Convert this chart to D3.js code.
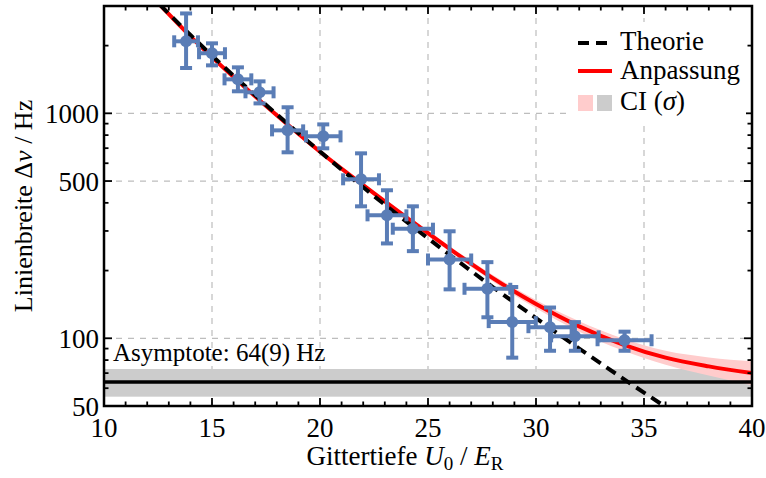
<!DOCTYPE html>
<html>
<head>
<meta charset="utf-8">
<script src="https://cdn.jsdelivr.net/npm/d3@7"></script>
<style>
  body { margin: 0; background: #fff; }
  text { font-family: "Liberation Serif", "DejaVu Serif", serif; fill: #000; }
</style>
</head>
<body>
<div id="chart"></div>
<script>
// measured points: lattice depth, its error, linewidth and asymmetric error range
const depth = [13.8, 15.0, 16.2, 17.2, 18.5, 20.15, 21.9, 23.1, 24.3, 26.0, 27.75, 28.9, 30.65, 31.8, 34.1];
const depthErr = [0.55, 0.6, 0.62, 0.65, 0.72, 0.8, 0.83, 0.9, 0.93, 1.0, 1.06, 1.09, 1.0, 1.1, 1.25];
const width = [2090, 1850, 1416, 1240, 840, 790, 509, 352, 307, 224, 166, 118, 112, 102, 98];
const widthLo = [1590, 1634, 1253, 1107, 671, 699, 386, 264, 244, 165, 124, 82, 88, 88, 88];
const widthHi = [2780, 2047, 1601, 1387, 1064, 893, 664, 455, 386, 299, 218, 169, 137, 118, 107];

// theory curve (dashed)
const theoryX = [12, 14, 16, 18, 20, 22, 24, 26, 28, 30, 32, 34, 36, 37];
const theoryY = [3460, 2230, 1470, 990, 676, 469, 330, 235, 169, 123, 90, 66.5, 49.5, 42.7];

// fitted curve and its confidence band
const fitX = [12.5, 14, 16, 18, 20, 22, 24, 26, 28, 30, 32, 34, 36, 38, 40];
const fitY = [3100, 2200, 1450, 980, 675, 480, 345, 250, 185, 142, 113, 94, 82, 75, 70];
const bandX = [12.5, 16, 20, 24, 28, 30, 32, 34, 36, 38, 40];
const bandLo = [3060, 1428, 661, 336, 179, 136, 107, 88.4, 76.3, 68.4, 61.9];
const bandHi = [3150, 1472, 689, 354, 191, 148, 119, 99.9, 88, 82.2, 79];

const asymptote = 64;
const asymptoteErr = 9;

const xTicks = [10, 15, 20, 25, 30, 35, 40];
const yTicks = [50, 100, 500, 1000];
const yMinor = [60, 70, 80, 90, 200, 300, 400, 600, 700, 800, 900, 2000, 3000];

const W = 766, H = 478;
const margin = {top: 6, right: 14, bottom: 72, left: 104};
const iw = W - margin.left - margin.right;
const ih = H - margin.top - margin.bottom;

const svg = d3.select('#chart').append('svg')
    .attr('width', W)
    .attr('height', H);

svg.append('defs').append('clipPath').attr('id', 'clip')
  .append('rect').attr('width', iw).attr('height', ih);

const g = svg.append('g')
    .attr('transform', `translate(${margin.left},${margin.top})`);

const x = d3.scaleLinear().domain([10, 40]).range([0, iw]);
const y = d3.scaleLog().domain([50, 3000]).range([ih, 0]);

const blue = '#5a7db6';

// grid
g.append('g').selectAll('line')
  .data(xTicks.slice(1, -1))
  .join('line')
    .attr('x1', d => x(d)).attr('x2', d => x(d))
    .attr('y1', 0).attr('y2', ih)
    .attr('stroke', '#bdbdbd').attr('stroke-width', 1.2)
    .attr('stroke-dasharray', '6,6');
g.append('g').selectAll('line')
  .data(yTicks.slice(1))
  .join('line')
    .attr('x1', 0).attr('x2', iw)
    .attr('y1', d => y(d)).attr('y2', d => y(d))
    .attr('stroke', '#bdbdbd').attr('stroke-width', 1.2)
    .attr('stroke-dasharray', '6,6');

const plot = g.append('g').attr('clip-path', 'url(#clip)');

// asymptote band
plot.append('rect')
    .attr('x', 0).attr('width', iw)
    .attr('y', y(asymptote + asymptoteErr))
    .attr('height', y(asymptote - asymptoteErr) - y(asymptote + asymptoteErr))
    .attr('fill', '#cccccc');

// fit confidence band
const band = bandX.map((d, i) => ({x: d, lo: bandLo[i], hi: bandHi[i]}));
plot.append('path')
    .datum(band)
    .attr('fill', '#ffcccc')
    .attr('d', d3.area()
        .x(d => x(d.x))
        .y0(d => y(d.lo))
        .y1(d => y(d.hi))
        .curve(d3.curveMonotoneX));

// asymptote line
plot.append('line')
    .attr('x1', 0).attr('x2', iw)
    .attr('y1', y(asymptote)).attr('y2', y(asymptote))
    .attr('stroke', '#000').attr('stroke-width', 3.5);

const line = d3.line()
    .x(d => x(d[0]))
    .y(d => y(d[1]))
    .curve(d3.curveMonotoneX);

plot.append('path')
    .datum(fitX.map((d, i) => [d, fitY[i]]))
    .attr('fill', 'none')
    .attr('stroke', '#ff0000')
    .attr('stroke-width', 4)
    .attr('d', line);

plot.append('path')
    .datum(theoryX.map((d, i) => [d, theoryY[i]]))
    .attr('fill', 'none')
    .attr('stroke', '#000')
    .attr('stroke-width', 4)
    .attr('stroke-dasharray', '11,7')
    .attr('d', line);

// error bars
const pts = depth.map((d, i) => ({x: d, xe: depthErr[i], y: width[i], lo: widthLo[i], hi: widthHi[i]}));
const cap = 6;
const eb = g.append('g').attr('stroke', blue).attr('stroke-width', 4);
pts.forEach(p => {
  const cx = x(p.x), cy = y(p.y);
  const x0 = x(p.x - p.xe), x1 = x(p.x + p.xe);
  const y0 = y(p.lo), y1 = y(p.hi);
  eb.append('line').attr('x1', x0).attr('x2', x1).attr('y1', cy).attr('y2', cy);
  eb.append('line').attr('x1', cx).attr('x2', cx).attr('y1', y0).attr('y2', y1);
  eb.append('line').attr('x1', x0).attr('x2', x0).attr('y1', cy - cap).attr('y2', cy + cap);
  eb.append('line').attr('x1', x1).attr('x2', x1).attr('y1', cy - cap).attr('y2', cy + cap);
  eb.append('line').attr('x1', cx - cap).attr('x2', cx + cap).attr('y1', y0).attr('y2', y0);
  eb.append('line').attr('x1', cx - cap).attr('x2', cx + cap).attr('y1', y1).attr('y2', y1);
});
g.append('g').selectAll('circle')
  .data(pts)
  .join('circle')
    .attr('cx', d => x(d.x))
    .attr('cy', d => y(d.y))
    .attr('r', 6)
    .attr('fill', blue);

// asymptote label
g.append('text')
    .attr('x', 9).attr('y', 355)
    .style('font-size', '25px')
    .text('Asymptote: 64(9) Hz');

// frame and ticks
g.append('rect')
    .attr('width', iw).attr('height', ih)
    .attr('fill', 'none').attr('stroke', '#000').attr('stroke-width', 2.5);

const xMinor = d3.range(11, 40).filter(d => d % 5 !== 0);
const tickG = g.append('g').attr('stroke', '#000').attr('stroke-width', 1.8);
xTicks.forEach(d => {
  tickG.append('line').attr('x1', x(d)).attr('x2', x(d)).attr('y1', ih).attr('y2', ih - 8);
  tickG.append('line').attr('x1', x(d)).attr('x2', x(d)).attr('y1', 0).attr('y2', 8);
});
xMinor.forEach(d => {
  tickG.append('line').attr('x1', x(d)).attr('x2', x(d)).attr('y1', ih).attr('y2', ih - 4.5);
  tickG.append('line').attr('x1', x(d)).attr('x2', x(d)).attr('y1', 0).attr('y2', 4.5);
});
yTicks.forEach(d => {
  tickG.append('line').attr('x1', 0).attr('x2', 8).attr('y1', y(d)).attr('y2', y(d));
  tickG.append('line').attr('x1', iw).attr('x2', iw - 8).attr('y1', y(d)).attr('y2', y(d));
});
yMinor.forEach(d => {
  tickG.append('line').attr('x1', 0).attr('x2', 4.5).attr('y1', y(d)).attr('y2', y(d));
  tickG.append('line').attr('x1', iw).attr('x2', iw - 4.5).attr('y1', y(d)).attr('y2', y(d));
});

g.append('g').selectAll('text')
  .data(xTicks)
  .join('text')
    .attr('x', d => x(d))
    .attr('y', ih + 31)
    .attr('text-anchor', 'middle')
    .style('font-size', '27px')
    .text(d => d);

g.append('g').selectAll('text')
  .data(yTicks)
  .join('text')
    .attr('x', -5)
    .attr('y', d => y(d))
    .attr('dy', '0.36em')
    .attr('text-anchor', 'end')
    .style('font-size', '27px')
    .text(d => d);

// axis titles
const xLabel = svg.append('text')
    .attr('x', 405).attr('y', 465)
    .attr('text-anchor', 'middle')
    .style('font-size', '27px');
xLabel.append('tspan').text('Gittertiefe ');
xLabel.append('tspan').style('font-style', 'italic').text('U');
xLabel.append('tspan').attr('dy', 5).style('font-size', '19px').text('0');
xLabel.append('tspan').attr('dy', -5).text(' / ');
xLabel.append('tspan').style('font-style', 'italic').text('E');
xLabel.append('tspan').attr('dy', 5).style('font-size', '19px').text('R');

const yLabel = svg.append('text')
    .attr('transform', `translate(32,${margin.top + ih / 2}) rotate(-90)`)
    .attr('text-anchor', 'middle')
    .style('font-size', '26px');
yLabel.append('tspan').text('Linienbreite Δ');
yLabel.append('tspan').style('font-style', 'italic').text('ν');
yLabel.append('tspan').text(' / Hz');

// legend
const leg = svg.append('g');
leg.append('rect')
    .attr('x', 566).attr('y', 22).attr('width', 180).attr('height', 98)
    .attr('fill', '#fff');
leg.append('line')
    .attr('x1', 578).attr('x2', 612).attr('y1', 43).attr('y2', 43)
    .attr('stroke', '#000').attr('stroke-width', 4).attr('stroke-dasharray', '11,7');
leg.append('line')
    .attr('x1', 578).attr('x2', 612).attr('y1', 71).attr('y2', 71)
    .attr('stroke', '#ff0000').attr('stroke-width', 4);
leg.append('rect').attr('x', 578).attr('y', 95).attr('width', 15).attr('height', 16).attr('fill', '#ffcccc');
leg.append('rect').attr('x', 597).attr('y', 95).attr('width', 15).attr('height', 16).attr('fill', '#cccccc');
leg.append('text').attr('x', 620).attr('y', 50).style('font-size', '27px').text('Theorie');
leg.append('text').attr('x', 620).attr('y', 79).style('font-size', '27px').text('Anpassung');
const ci = leg.append('text').attr('x', 620).attr('y', 110).style('font-size', '27px');
ci.append('tspan').text('CI (');
ci.append('tspan').style('font-style', 'italic').text('σ');
ci.append('tspan').text(')');
</script>
</body>
</html>
